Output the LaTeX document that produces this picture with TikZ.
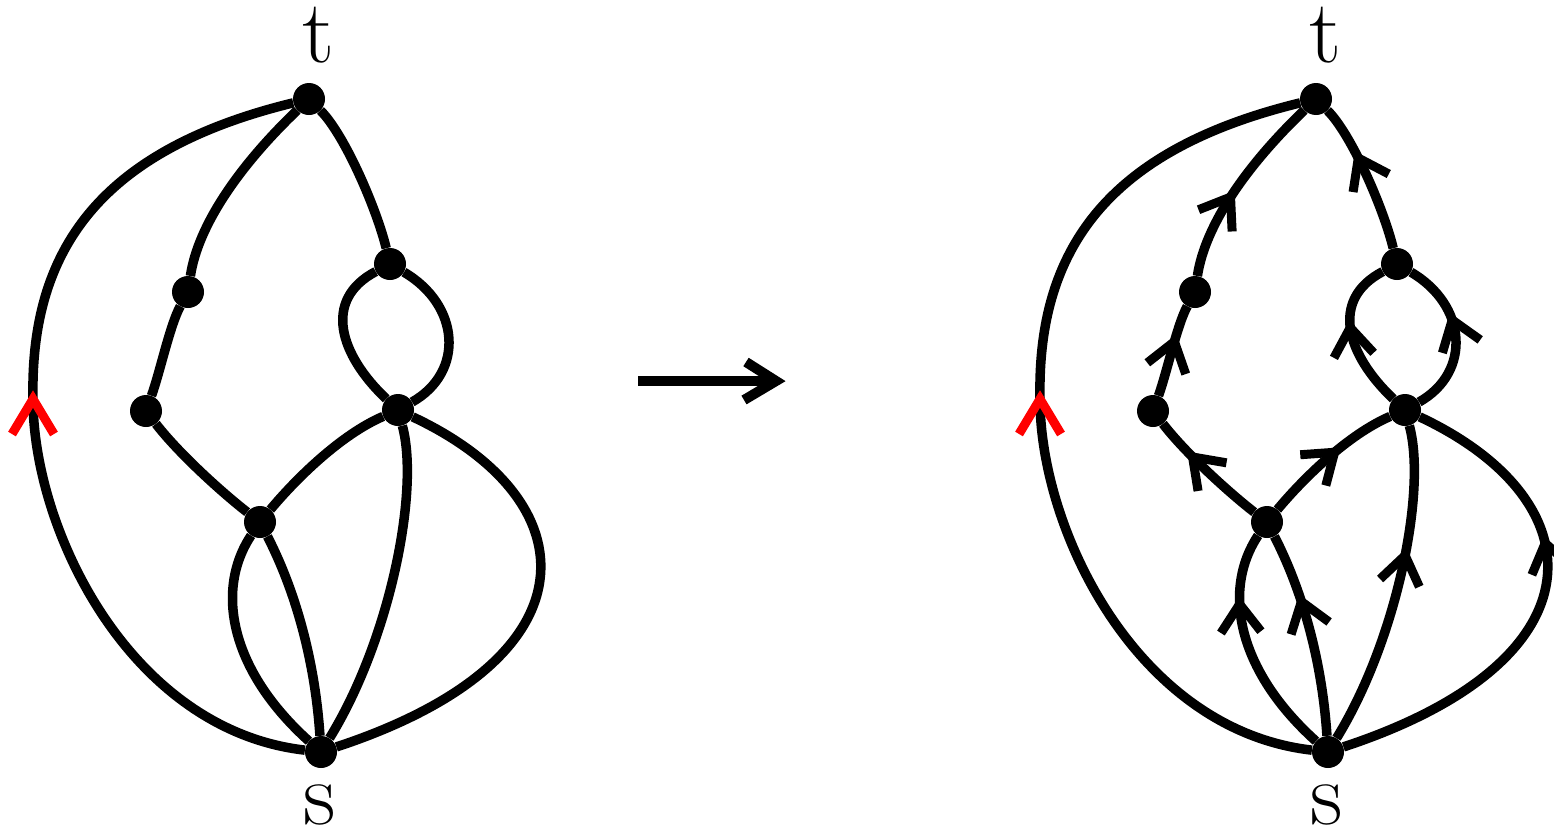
\documentclass[tikz,border=0pt]{standalone}
\usepackage{fontspec}
\usetikzlibrary{decorations.markings}
\tikzset{
  edge/.style={line width=9.5pt},
  dot/.style={circle,fill=black,inner sep=0pt,minimum size=32pt},
  lab/.style={inner sep=0pt,font=\fontsize{90}{90}\selectfont},
  vtip/.style={line width=9pt,line join=miter,line cap=butt},
  redv/.style={vtip,draw=red},
  ar/.style={postaction={decorate,decoration={markings,mark=at position #1 with {\draw[vtip] (-28,20) -- (0,0) -- (-28,-20);}}}},
  noar/.style={},
}
\newcommand\mygraphG[2]{%
  \node[dot] (#1t) at (309,99) {};
  \node[dot] (#1a) at (188,292) {};
  \node[dot] (#1b) at (146,411) {};
  \node[dot] (#1c) at (390,264) {};
  \node[dot] (#1d) at (398,410) {};
  \node[dot] (#1e) at (260,522) {};
  \node[dot] (#1s) at (321,752) {};
  \node[lab] (#1lt) at (318,35) {t};
  \node[lab] (#1ls) at (320,805) {s};
  \coordinate (#1m) at (33,399);
  % outer edge
  \draw[edge] (#1s) .. controls (130,730) and (33,530) .. (#1m) .. controls (30,250) and (100,150) .. (#1t);
  \draw[redv] ([shift={(-21,35)}]#1m) -- (#1m) -- ([shift={(21,35)}]#1m);
  % left branch
  \draw[edge,#2=0.43] (#1a) .. controls (198,225) and (240,165) .. (#1t);
  \draw[edge,#2=0.6] (#1b) .. controls (160,372) and (170,325) .. (#1a);
  \draw[edge,#2=0.65] (#1e) .. controls (225,495) and (180,455) .. (#1b);
  % right branch
  \draw[edge,#2=0.63] (#1c) .. controls (377,210) and (345,135) .. (#1t);
  \draw[edge,#2=0.55] (#1d) .. controls (340,355) and (322,300) .. (#1c);
  \draw[edge,#2=0.6] (#1d) .. controls (465,372) and (460,305) .. (#1c);
  \draw[edge,#2=0.55] (#1e) .. controls (295,480) and (340,435) .. (#1d);
  % bottom
  \draw[edge,#2=0.6] (#1s) .. controls (390,640) and (420,490) .. (#1d);
  \draw[edge,#2=0.63] (#1s) .. controls (600,660) and (590,500) .. (#1d);
  \draw[edge,#2=0.69] (#1s) .. controls (230,670) and (215,590) .. (#1e);
  \draw[edge,#2=0.66] (#1s) .. controls (315,660) and (295,590) .. (#1e);
}
\begin{document}
\begin{tikzpicture}[x=1pt,y=-1pt]
  \useasboundingbox (0,0) rectangle (1554,830);
  \begin{scope}
    \mygraphG{L}{noar}
  \end{scope}
  \begin{scope}[xshift=1007pt]
    \mygraphG{R}{ar}
  \end{scope}
  \coordinate (A) at (638,381);
  \coordinate (B) at (776,381);
  \draw[line width=10pt] (A) -- (B);
  \draw[line width=10pt,line join=miter] ([shift={(-30,-19)}]B) -- (B) -- ([shift={(-32,19)}]B);
\end{tikzpicture}
\end{document}
